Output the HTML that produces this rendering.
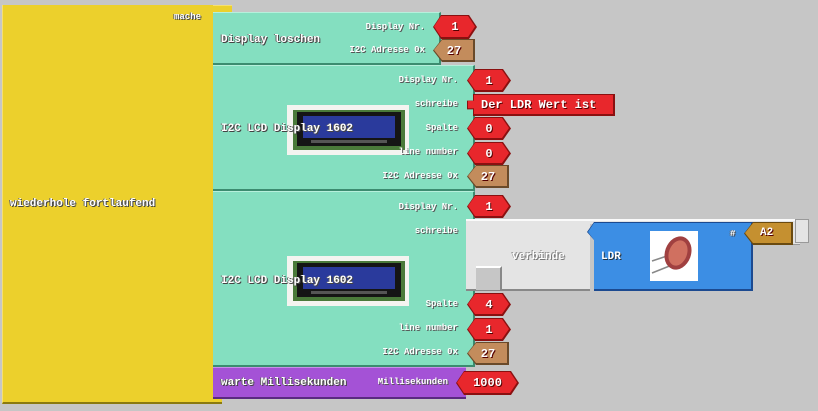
<!DOCTYPE html>
<html><head><meta charset="utf-8">
<style>
html,body{margin:0;padding:0}
body{width:818px;height:411px;background:#c6c6c6;position:relative;overflow:hidden;font-family:"Liberation Mono",monospace;font-weight:bold;color:#fff}
.a{position:absolute}
.t{position:absolute;white-space:nowrap;text-shadow:1px 1px 0 #444,-1px 0 0 #666}
.lbl{position:absolute;white-space:nowrap;font-size:9px;text-align:right;text-shadow:1px 1px 0 #555}
.hex{position:absolute;background:#8a1010;clip-path:polygon(8px 0,calc(100% - 8px) 0,100% 50%,calc(100% - 8px) 100%,8px 100%,0 50%)}
.hex i{position:absolute;left:1px;top:1px;right:2px;bottom:2px;background:#e8272c;clip-path:polygon(7px 0,calc(100% - 7px) 0,100% 50%,calc(100% - 7px) 100%,7px 100%,0 50%)}
.hex b,.br b{position:absolute;left:0;right:0;top:0;bottom:0;display:flex;align-items:center;justify-content:center;font-size:12px;text-shadow:1px 1px 0 #500}
.br{position:absolute;background:#6a4a2a;clip-path:polygon(9px 0,100% 0,100% 100%,9px 100%,0 50%)}
.br i{position:absolute;left:1px;top:1px;right:2px;bottom:2px;background:#c38c5c;clip-path:polygon(8px 0,100% 0,100% 100%,8px 100%,0 50%)}
.teal{position:absolute;background:#84dfc0;border-bottom:2px solid #3c8c70;border-right:2px solid #3c8c70;box-sizing:border-box;border-top:1px solid #b6f0dc}
</style></head><body>

<!-- yellow loop -->
<div class="a" style="left:2px;top:5px;width:230px;height:8px;background:#ecd02c;border-top:1px solid #f6e070"></div>
<div class="a" style="left:2px;top:5px;width:211px;height:399px;background:#ecd02c;border-left:1px solid #f6e070;border-bottom:2px solid #8a7a10;box-sizing:border-box"></div>
<div class="a" style="left:200px;top:396px;width:22px;height:8px;background:#ecd02c;border-bottom:2px solid #8a7a10;box-sizing:border-box"></div>
<div class="t" style="left:174px;top:12px;font-size:9px">mache</div>
<div class="t" style="left:10px;top:198px;font-size:11px">wiederhole fortlaufend</div>

<!-- block 1 -->
<div class="teal" style="left:213px;top:12px;width:228px;height:53px"></div>
<div class="t" style="left:221px;top:34px;font-size:11px">Display loschen</div>
<div class="lbl" style="left:330px;top:22px;width:95px">Display Nr.</div>
<div class="lbl" style="left:320px;top:45px;width:105px">I2C Adresse 0x</div>
<div class="hex" style="left:433px;top:15px;width:44px;height:24px"><i></i><b>1</b></div>
<div class="br" style="left:433px;top:39px;width:42px;height:23px"><i></i><b>27</b></div>

<!-- block 2 -->
<div class="teal" style="left:213px;top:65px;width:262px;height:126px"></div>
<div class="a" style="left:287px;top:105px;width:122px;height:50px;background:#f4f4f0">
<svg width="122" height="50"><rect x="6" y="5" width="112" height="40" fill="#4a7a3a"/><rect x="10" y="7" width="104" height="34" fill="#151515"/><rect x="16" y="11" width="92" height="22" fill="#2a3a9c"/><rect x="24" y="35" width="76" height="3" fill="#555"/></svg></div>
<div class="t" style="left:221px;top:123px;font-size:11px">I2C LCD Display 1602</div>
<div class="lbl" style="left:360px;top:75px;width:98px">Display Nr.</div>
<div class="lbl" style="left:360px;top:99px;width:98px">schreibe</div>
<div class="lbl" style="left:360px;top:123px;width:98px">Spalte</div>
<div class="lbl" style="left:360px;top:147px;width:98px">line number</div>
<div class="lbl" style="left:350px;top:171px;width:108px">I2C Adresse 0x</div>
<div class="hex" style="left:467px;top:69px;width:44px;height:23px"><i></i><b>1</b></div>
<div class="a" style="left:467px;top:94px;width:148px;height:22px;background:#8a1010;clip-path:polygon(6px 0,100% 0,100% 100%,6px 100%,6px 70%,0 70%,0 30%,6px 30%)"></div>
<div class="a" style="left:468px;top:95px;width:145px;height:19px;background:#e8272c;clip-path:polygon(6px 0,100% 0,100% 100%,6px 100%,6px 70%,0 70%,0 30%,6px 30%)"></div>
<div class="t" style="left:481px;top:98px;font-size:12px;text-shadow:1px 1px 0 #500">Der LDR Wert ist</div>
<div class="hex" style="left:467px;top:117px;width:44px;height:23px"><i></i><b>0</b></div>
<div class="hex" style="left:467px;top:142px;width:44px;height:23px"><i></i><b>0</b></div>
<div class="br" style="left:467px;top:165px;width:42px;height:23px"><i></i><b>27</b></div>

<!-- block 3 -->
<div class="teal" style="left:213px;top:191px;width:262px;height:176px"></div>
<div class="a" style="left:287px;top:256px;width:122px;height:50px;background:#f4f4f0">
<svg width="122" height="50"><rect x="6" y="5" width="112" height="40" fill="#4a7a3a"/><rect x="10" y="7" width="104" height="34" fill="#151515"/><rect x="16" y="11" width="92" height="22" fill="#2a3a9c"/><rect x="24" y="35" width="76" height="3" fill="#555"/></svg></div>
<div class="t" style="left:221px;top:275px;font-size:11px">I2C LCD Display 1602</div>
<div class="lbl" style="left:360px;top:202px;width:98px">Display Nr.</div>
<div class="lbl" style="left:360px;top:226px;width:98px">schreibe</div>
<div class="lbl" style="left:360px;top:299px;width:98px">Spalte</div>
<div class="lbl" style="left:360px;top:323px;width:98px">line number</div>
<div class="lbl" style="left:350px;top:347px;width:108px">I2C Adresse 0x</div>
<div class="hex" style="left:467px;top:195px;width:44px;height:23px"><i></i><b>1</b></div>
<!-- verbinde -->
<div class="a" style="left:466px;top:219px;width:334px;height:5px;background:#e4e4e4;border-top:2px solid #fafafa;box-sizing:border-box"></div>
<div class="a" style="left:752px;top:219px;width:48px;height:26px;background:#e4e4e4;border-top:2px solid #fafafa;border-bottom:1px solid #999;box-sizing:border-box"></div>
<div class="a" style="left:466px;top:219px;width:124px;height:72px;background:#e4e4e4;border-top:2px solid #fafafa;border-bottom:2px solid #888;box-sizing:border-box"></div>
<div class="a" style="left:795px;top:219px;width:14px;height:24px;background:#e4e4e4;border:1px solid #999;box-sizing:border-box"></div>
<div class="a" style="left:476px;top:266px;width:26px;height:24px;background:#c6c6c6;border-top:2px solid #fff;border-right:2px solid #888;box-sizing:border-box"></div>
<div class="t" style="left:512px;top:251px;font-size:11px;color:#fff;text-shadow:1px 1px 0 #777,-1px -1px 0 #999">verbinde</div>
<div class="a" style="left:587px;top:222px;width:166px;height:69px;background:#1c4a90;clip-path:polygon(7px 0,100% 0,100% 100%,7px 100%,7px 18px,0 10px)"></div>
<div class="a" style="left:588px;top:223px;width:163px;height:66px;background:#3c8ee4;clip-path:polygon(6px 0,100% 0,100% 100%,6px 100%,6px 17px,0 9px)"></div>
<div class="t" style="left:601px;top:251px;font-size:11px;text-shadow:1px 1px 0 #234">LDR</div>
<div class="a" style="left:650px;top:231px;width:48px;height:50px;background:#fff">
<svg width="48" height="50"><line x1="2" y1="30" x2="20" y2="24" stroke="#888" stroke-width="1.5"/><line x1="2" y1="42" x2="22" y2="34" stroke="#888" stroke-width="1.5"/><ellipse cx="28" cy="22" rx="13" ry="17" transform="rotate(20 28 22)" fill="#a04040"/><ellipse cx="28" cy="22" rx="9" ry="13" transform="rotate(20 28 22)" fill="#d07060"/></svg></div>
<div class="t" style="left:730px;top:229px;font-size:9px">#</div>
<div class="a" style="left:744px;top:222px;width:49px;height:23px;background:#6a4a10;clip-path:polygon(9px 0,100% 0,100% 100%,9px 100%,0 50%)"></div>
<div class="a" style="left:745px;top:223px;width:46px;height:20px;background:#c59030;clip-path:polygon(8px 0,100% 0,100% 100%,8px 100%,0 50%)"></div>
<div class="t" style="left:760px;top:227px;font-size:11px;text-shadow:1px 1px 0 #500">A2</div>
<div class="hex" style="left:467px;top:293px;width:44px;height:23px"><i></i><b>4</b></div>
<div class="hex" style="left:467px;top:318px;width:44px;height:23px"><i></i><b>1</b></div>
<div class="br" style="left:467px;top:342px;width:42px;height:23px"><i></i><b>27</b></div>

<!-- purple -->
<div class="a" style="left:213px;top:367px;width:253px;height:32px;background:#a452d6;border-bottom:2px solid #5a2a80;border-top:1px solid #c890ea;box-sizing:border-box"></div>
<div class="t" style="left:221px;top:377px;font-size:11px">warte Millisekunden</div>
<div class="lbl" style="left:360px;top:377px;width:88px">Millisekunden</div>
<div class="hex" style="left:456px;top:371px;width:63px;height:24px"><i></i><b>1000</b></div>
</body></html>
